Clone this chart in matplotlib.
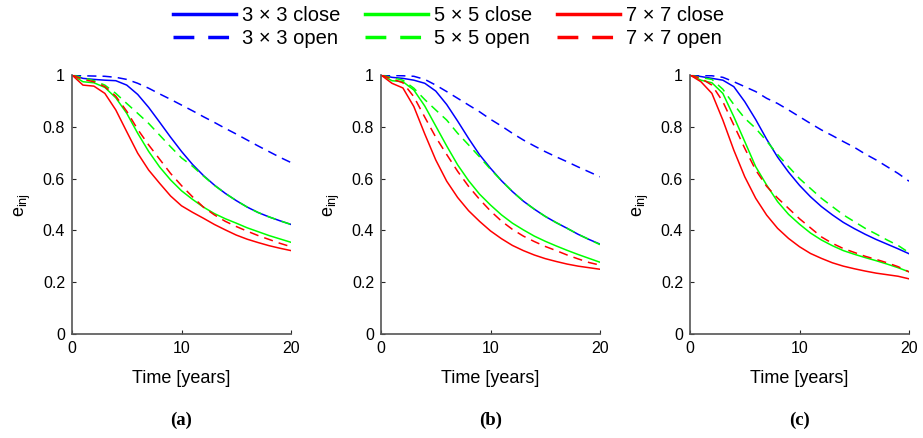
import matplotlib

matplotlib.use("Agg")
import matplotlib.pyplot as plt
from matplotlib.lines import Line2D

plt.rcParams["font.family"] = ["Liberation Sans", "DejaVu Sans"]
plt.rcParams["mathtext.default"] = "regular"

years = list(range(21))

# (a)
a_3c = [1.0, 0.987, 0.983, 0.98, 0.978, 0.961, 0.925, 0.875, 0.818, 0.76, 0.705,
        0.655, 0.612, 0.575, 0.543, 0.515, 0.49, 0.469, 0.452, 0.437, 0.423]
a_3o = [1.0, 0.997, 0.996, 0.995, 0.991, 0.983, 0.968, 0.949, 0.927, 0.906, 0.884,
        0.862, 0.839, 0.817, 0.794, 0.772, 0.749, 0.726, 0.704, 0.682, 0.662]
a_5c = [1.0, 0.974, 0.97, 0.952, 0.912, 0.852, 0.775, 0.705, 0.645, 0.595, 0.553,
        0.52, 0.49, 0.465, 0.445, 0.428, 0.41, 0.395, 0.38, 0.367, 0.354]
a_5o = [1.0, 0.99, 0.978, 0.961, 0.929, 0.89, 0.852, 0.813, 0.768, 0.723, 0.68,
        0.648, 0.61, 0.574, 0.543, 0.515, 0.49, 0.469, 0.452, 0.437, 0.423]
a_7c = [1.0, 0.961, 0.957, 0.929, 0.865, 0.781, 0.698, 0.633, 0.582, 0.533, 0.495,
        0.47, 0.447, 0.423, 0.402, 0.382, 0.366, 0.353, 0.341, 0.331, 0.322]
a_7o = [1.0, 0.983, 0.974, 0.955, 0.918, 0.86, 0.79, 0.73, 0.675, 0.62, 0.573,
        0.53, 0.49, 0.46, 0.435, 0.415, 0.397, 0.38, 0.365, 0.35, 0.337]

# (b)
b_3c = [1.0, 0.991, 0.987, 0.98, 0.968, 0.938, 0.886, 0.822, 0.755, 0.692, 0.64,
        0.592, 0.55, 0.513, 0.482, 0.454, 0.43, 0.408, 0.385, 0.365, 0.347]
b_3o = [1.0, 0.998, 0.997, 0.995, 0.983, 0.961, 0.936, 0.91, 0.884, 0.858, 0.829,
        0.803, 0.775, 0.749, 0.726, 0.704, 0.684, 0.665, 0.645, 0.626, 0.607]
b_5c = [1.0, 0.978, 0.974, 0.942, 0.88, 0.803, 0.726, 0.653, 0.592, 0.54, 0.498,
        0.46, 0.428, 0.402, 0.378, 0.358, 0.34, 0.323, 0.307, 0.292, 0.277]
b_5o = [1.0, 0.99, 0.98, 0.949, 0.905, 0.865, 0.826, 0.775, 0.73, 0.684, 0.636,
        0.592, 0.55, 0.513, 0.482, 0.454, 0.43, 0.408, 0.385, 0.365, 0.345]
b_7c = [1.0, 0.968, 0.95, 0.878, 0.772, 0.672, 0.59, 0.527, 0.476, 0.435, 0.398,
        0.368, 0.342, 0.322, 0.305, 0.291, 0.28, 0.27, 0.262, 0.256, 0.25]
b_7o = [1.0, 0.985, 0.97, 0.916, 0.837, 0.76, 0.693, 0.628, 0.57, 0.52, 0.475,
        0.436, 0.404, 0.378, 0.357, 0.338, 0.322, 0.305, 0.29, 0.276, 0.266]

# (c)
c_3c = [1.0, 0.994, 0.987, 0.98, 0.955, 0.897, 0.828, 0.752, 0.683, 0.625, 0.574,
        0.53, 0.492, 0.46, 0.431, 0.407, 0.385, 0.365, 0.347, 0.329, 0.31]
c_3o = [1.0, 0.998, 0.997, 0.991, 0.974, 0.955, 0.936, 0.91, 0.89, 0.865, 0.839,
        0.813, 0.788, 0.766, 0.743, 0.721, 0.695, 0.672, 0.646, 0.62, 0.59]
c_5c = [1.0, 0.98, 0.97, 0.929, 0.839, 0.743, 0.646, 0.575, 0.511, 0.462, 0.424,
        0.39, 0.363, 0.341, 0.322, 0.308, 0.295, 0.283, 0.27, 0.256, 0.24]
c_5o = [1.0, 0.99, 0.983, 0.945, 0.886, 0.833, 0.794, 0.745, 0.693, 0.646, 0.6,
        0.562, 0.524, 0.492, 0.46, 0.434, 0.408, 0.386, 0.363, 0.342, 0.314]
c_7c = [1.0, 0.974, 0.929, 0.826, 0.71, 0.607, 0.524, 0.459, 0.408, 0.369, 0.337,
        0.311, 0.292, 0.275, 0.262, 0.252, 0.243, 0.235, 0.229, 0.223, 0.213]
c_7o = [1.0, 0.987, 0.961, 0.897, 0.807, 0.717, 0.633, 0.57, 0.525, 0.485, 0.445,
        0.41, 0.375, 0.35, 0.33, 0.315, 0.3, 0.288, 0.275, 0.26, 0.24]

panels = [
    ("(a)", [a_3c, a_3o, a_5c, a_5o, a_7c, a_7o]),
    ("(b)", [b_3c, b_3o, b_5c, b_5o, b_7c, b_7o]),
    ("(c)", [c_3c, c_3o, c_5c, c_5o, c_7c, c_7o]),
]
labels = ["3 × 3 close", "3 × 3 open", "5 × 5 close", "5 × 5 open",
          "7 × 7 close", "7 × 7 open"]
colors = ["#0000ff", "#0000ff", "#00ff00", "#00ff00", "#ff0000", "#ff0000"]
styles = ["-", (0, (6, 4)), "-", (0, (6, 4)), "-", (0, (6, 4))]

fig = plt.figure(figsize=(9.23, 4.38), dpi=100)
lefts = [72, 381, 690]
for left, (tag, series) in zip(lefts, panels):
    ax = fig.add_axes([left / 923, 104 / 438, 219 / 923, 259 / 438])
    for y, c, ls in zip(series, colors, styles):
        ax.plot(years, y, color=c, linestyle=ls, lw=1.1)
    ax.set_xlim(0, 20)
    ax.set_ylim(0, 1)
    ax.set_xticks([0, 10, 20])
    ax.set_yticks([0, 0.2, 0.4, 0.6, 0.8, 1])
    ax.set_yticklabels(["0", "0.2", "0.4", "0.6", "0.8", "1"])
    ax.tick_params(direction="in", length=3, labelsize=11.5, colors="#262626",
                   labelcolor="black", width=0.8, pad=5)
    for s in ["top", "right"]:
        ax.spines[s].set_visible(False)
    for s in ["left", "bottom"]:
        ax.spines[s].set_color("#555555")
        ax.spines[s].set_linewidth(1.2)
    ax.set_xlabel("Time [years]", fontsize=13, labelpad=10)
    ax.set_ylabel("e$_{inj}$", fontsize=13, labelpad=7)
    ax.text(0.5, -0.335, tag, transform=ax.transAxes, ha="center", va="center",
            fontsize=13.5, fontweight="bold", family="Liberation Serif")

handles = [Line2D([], [], color=c, linestyle=ls, lw=2.5)
           for c, ls in zip(colors, styles)]
fig.legend(handles, labels, ncol=3, loc="upper center",
           bbox_to_anchor=(0.486, 1.027), frameon=False, fontsize=14.5,
           handlelength=3.1, handletextpad=0.3, columnspacing=1.25,
           labelspacing=0.2)

fig.savefig("out.png", dpi=100)
